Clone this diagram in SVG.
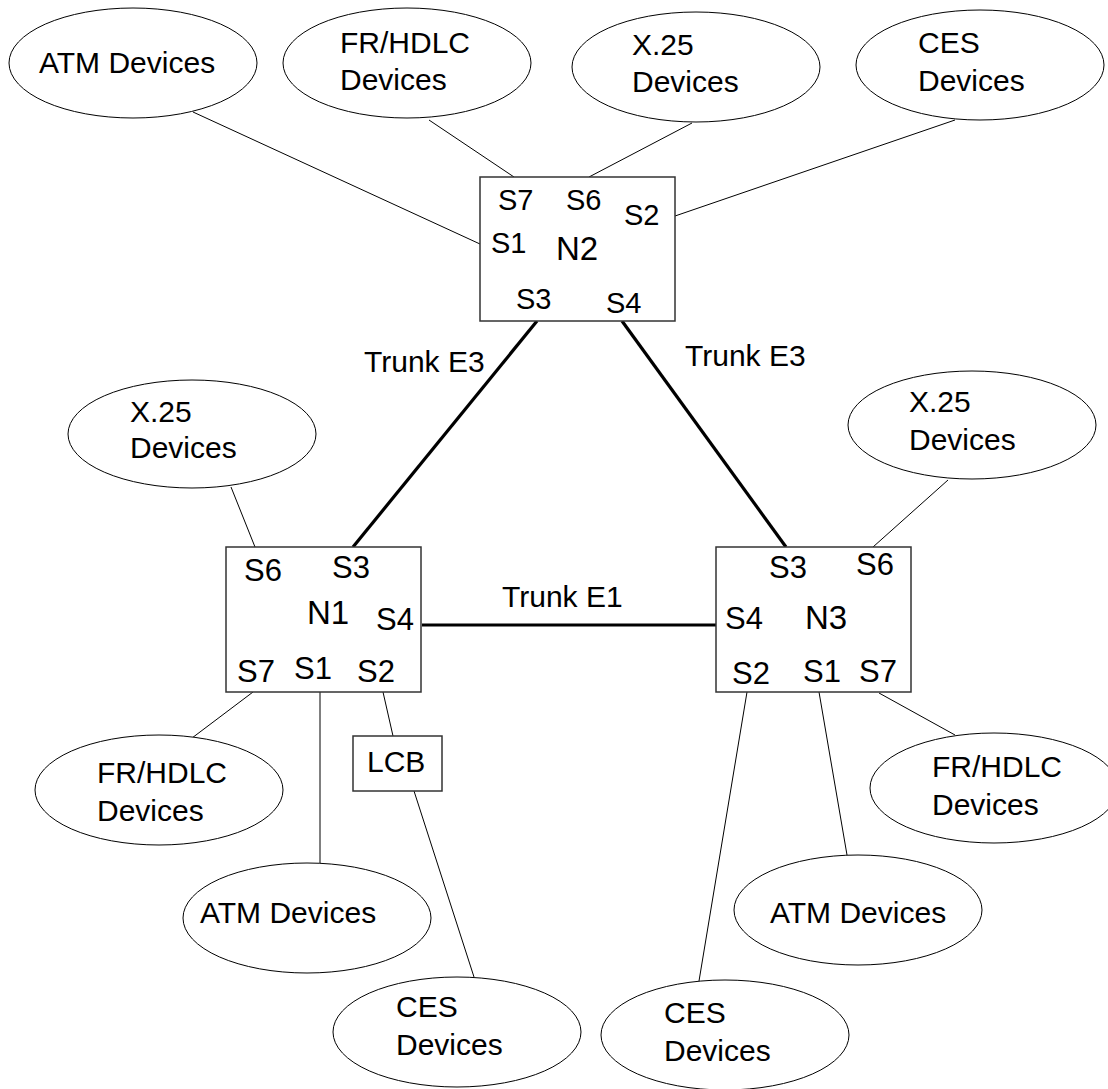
<svg xmlns="http://www.w3.org/2000/svg" width="1108" height="1089" viewBox="0 0 1108 1089">
<style>
.bg{fill:#fff}
.dev{fill:#fff;stroke:#000;stroke-width:1}
.box{fill:#fff;stroke:#333;stroke-width:1.5}
.link{stroke:#000;stroke-width:1;fill:none}
.trunk{stroke:#000;stroke-width:3.2;fill:none}
text{font-family:"Liberation Sans",Arial,sans-serif;fill:#000}
.t{font-size:30px}
.s2{font-size:29px}
.s{font-size:31px}
.n{font-size:33px}
</style>
<rect class="bg" x="0" y="0" width="1108" height="1089"/>
<g id="connectors">
<line class="link" x1="193" y1="112" x2="480" y2="244"/>
<line class="link" x1="429" y1="120" x2="514" y2="177"/>
<line class="link" x1="692" y1="123" x2="589" y2="177"/>
<line class="link" x1="955" y1="120" x2="675" y2="216"/>
<line class="trunk" x1="537" y1="321" x2="353" y2="547"/>
<line class="trunk" x1="622" y1="321" x2="786" y2="547"/>
<line class="trunk" x1="422" y1="625" x2="716" y2="625"/>
<line class="link" x1="231" y1="487" x2="255" y2="547"/>
<line class="link" x1="948" y1="480" x2="873" y2="547"/>
<line class="link" x1="253" y1="692" x2="192" y2="738"/>
<line class="link" x1="320" y1="692" x2="320" y2="863"/>
<line class="link" x1="383" y1="692" x2="393" y2="736"/>
<line class="link" x1="414" y1="791" x2="474" y2="977"/>
<line class="link" x1="879" y1="693" x2="955" y2="735"/>
<line class="link" x1="819" y1="692" x2="847" y2="855"/>
<line class="link" x1="747" y1="692" x2="699" y2="981"/>
</g>
<g id="trunk-labels">
<text class="t" x="364" y="372">Trunk E3</text>
<text class="t" x="685" y="366">Trunk E3</text>
<text class="t" x="502" y="607">Trunk E1</text>
</g>
<g id="atm-top">
<ellipse class="dev" cx="133" cy="63" rx="124" ry="55"/>
<text class="t" x="39" y="73">ATM Devices</text>
</g>
<g id="fr-top">
<ellipse class="dev" cx="407" cy="63" rx="124" ry="55"/>
<text class="t" x="340" y="53">FR/HDLC</text>
<text class="t" x="340" y="90">Devices</text>
</g>
<g id="x25-top">
<ellipse class="dev" cx="696" cy="67" rx="124" ry="55"/>
<text class="t" x="632" y="55">X.25</text>
<text class="t" x="632" y="92">Devices</text>
</g>
<g id="ces-top">
<ellipse class="dev" cx="980" cy="65" rx="124" ry="55"/>
<text class="t" x="918" y="53">CES</text>
<text class="t" x="918" y="91">Devices</text>
</g>
<g id="N2">
<rect class="box" x="480" y="177" width="195" height="144"/>
<text class="s2" x="498" y="210">S7</text>
<text class="s2" x="566" y="210">S6</text>
<text class="s2" x="624" y="225">S2</text>
<text class="s2" x="491" y="253">S1</text>
<text class="n" x="556" y="260">N2</text>
<text class="s2" x="516" y="309">S3</text>
<text class="s2" x="606" y="313">S4</text>
</g>
<g id="x25-left">
<ellipse class="dev" cx="192" cy="434" rx="124" ry="54"/>
<text class="t" x="130" y="422">X.25</text>
<text class="t" x="130" y="458">Devices</text>
</g>
<g id="x25-right">
<ellipse class="dev" cx="972" cy="425" rx="124" ry="54"/>
<text class="t" x="909" y="412">X.25</text>
<text class="t" x="909" y="450">Devices</text>
</g>
<g id="N1">
<rect class="box" x="226" y="547" width="195" height="145"/>
<text class="s" x="244" y="581">S6</text>
<text class="s" x="332" y="578">S3</text>
<text class="n" x="307" y="624">N1</text>
<text class="s" x="376" y="630">S4</text>
<text class="s" x="237" y="682">S7</text>
<text class="s" x="294" y="679">S1</text>
<text class="s" x="357" y="682">S2</text>
</g>
<g id="N3">
<rect class="box" x="716" y="547" width="195" height="145"/>
<text class="s" x="769" y="578">S3</text>
<text class="s" x="856" y="575">S6</text>
<text class="s" x="725" y="629">S4</text>
<text class="n" x="805" y="629">N3</text>
<text class="s" x="732" y="684">S2</text>
<text class="s" x="803" y="682">S1</text>
<text class="s" x="859" y="682">S7</text>
</g>
<g id="fr-left">
<ellipse class="dev" cx="159" cy="790" rx="124" ry="55"/>
<text class="t" x="97" y="783">FR/HDLC</text>
<text class="t" x="97" y="821">Devices</text>
</g>
<g id="atm-left">
<ellipse class="dev" cx="307" cy="918" rx="124" ry="55"/>
<text class="t" x="200" y="923">ATM Devices</text>
</g>
<g id="LCB">
<rect class="box" x="353" y="736" width="89" height="55"/>
<text class="t" x="367" y="772">LCB</text>
</g>
<g id="ces-left">
<ellipse class="dev" cx="457" cy="1032" rx="124" ry="55"/>
<text class="t" x="396" y="1017">CES</text>
<text class="t" x="396" y="1055">Devices</text>
</g>
<g id="fr-right">
<ellipse class="dev" cx="994" cy="788" rx="124" ry="55"/>
<text class="t" x="932" y="777">FR/HDLC</text>
<text class="t" x="932" y="815">Devices</text>
</g>
<g id="atm-right">
<ellipse class="dev" cx="858" cy="910" rx="124" ry="55"/>
<text class="t" x="770" y="923">ATM Devices</text>
</g>
<g id="ces-right">
<ellipse class="dev" cx="725" cy="1035" rx="124" ry="55"/>
<text class="t" x="664" y="1023">CES</text>
<text class="t" x="664" y="1061">Devices</text>
</g>
</svg>
